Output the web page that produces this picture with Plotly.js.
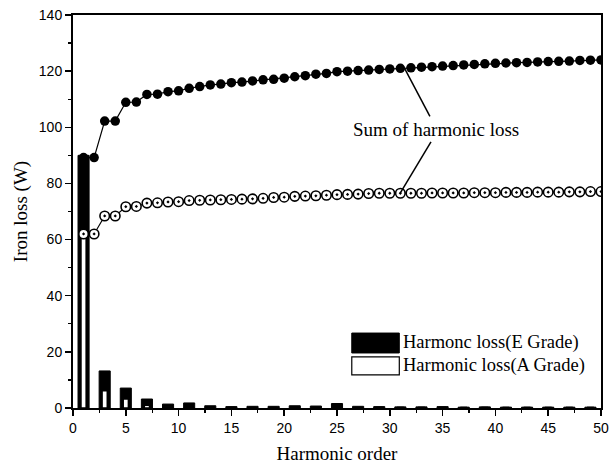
<!DOCTYPE html>
<html>
<head>
<meta charset="utf-8">
<script src="https://cdn.plot.ly/plotly-3.0.1.min.js"></script>
<style>html,body{margin:0;padding:0;background:#fff;}#chart{width:611px;height:470px;}</style>
</head>
<body>
<div id="chart"></div>
<script>
// Harmonic orders for bars (odd harmonics)
const barHarmonics = [1,3,5,7,9,11,13,15,17,19,21,23,25,27,29,31,33,35,37,39,41,43,45,47,49];
const lossEGrade = [90,13.2,7.1,3.2,1.4,1.8,0.8,0.5,0.6,0.6,0.8,0.7,1.6,0.6,0.5,0.4,0.4,0.5,0.3,0.4,0.3,0.3,0.3,0.3,0.3];
const lossAGrade = [61,6.2,3.2,1.0,0.4,0.5,0.3,0.2,0.2,0.2,0.3,0.2,0.5,0.2,0.2,0.2,0.2,0.2,0.2,0.2,0.2,0.2,0.2,0.2,0.2];

// Cumulative sum lines (every harmonic order 1..50)
const sumHarmonics = [1,2,3,4,5,6,7,8,9,10,11,12,13,14,15,16,17,18,19,20,21,22,23,24,25,26,27,28,29,30,31,32,33,34,35,36,37,38,39,40,41,42,43,44,45,46,47,48,49,50];
const sumEGrade = [89.2,89.2,102.2,102.2,108.9,109.0,111.7,111.8,112.7,113.0,113.9,114.5,115.1,115.4,115.9,116.1,116.5,116.9,117.1,117.5,118.0,118.4,118.9,119.2,119.8,120.0,120.2,120.4,120.6,120.8,121.0,121.2,121.4,121.6,121.8,122.0,122.2,122.4,122.6,122.8,122.9,123.0,123.1,123.3,123.4,123.5,123.6,123.8,123.9,124.0];
const sumAGrade = [62.0,62.0,68.4,68.4,71.7,71.8,73.0,73.1,73.4,73.5,73.9,74.0,74.1,74.2,74.3,74.4,74.5,74.7,75.0,75.1,75.4,75.5,75.6,75.8,76.0,76.1,76.2,76.4,76.5,76.5,76.5,76.5,76.5,76.6,76.6,76.6,76.6,76.7,76.7,76.7,76.8,76.8,76.8,76.9,76.9,76.9,77.0,77.0,77.1,77.1];

const legendLabels = ["Harmonc loss(E Grade)", "Harmonic loss(A Grade)"];
const annotationText = "Sum of harmonic loss";
const xTitle = "Harmonic order";
const yTitle = "Iron loss (W)";

const serif = "Liberation Serif, Times New Roman, serif";
const sans = "Liberation Sans, Arial, sans-serif";

const traces = [
  {type:'bar', x: barHarmonics, y: lossEGrade, width: 1.05,
   marker:{color:'#000', line:{color:'#000', width:1}}, showlegend:false, hoverinfo:'skip'},
  {type:'bar', x: barHarmonics, y: lossAGrade, width: 0.5,
   marker:{color:'#fff', line:{color:'#000', width:1.6}}, showlegend:false, hoverinfo:'skip'},
  {type:'scatter', mode:'lines+markers', x: sumHarmonics, y: sumEGrade,
   line:{color:'#000', width:1.2}, marker:{symbol:'circle', size:9.5, color:'#000'}, showlegend:false},
  {type:'scatter', mode:'lines+markers', x: sumHarmonics, y: sumAGrade,
   line:{color:'#000', width:1.2}, marker:{symbol:'circle-dot', size:9.5, color:'#fff', line:{width:1.6, color:'#000'}}, showlegend:false}
];

const layout = {
  width:611, height:470,
  margin:{l:73, r:10, t:15, b:62},
  paper_bgcolor:'#fff', plot_bgcolor:'#fff',
  barmode:'overlay', bargap:0,
  xaxis:{range:[0,50], tickvals:[0,5,10,15,20,25,30,35,40,45,50], ticks:'outside', ticklen:6, tickwidth:1.5,
    tickcolor:'#000', showline:true, linecolor:'#000', linewidth:2, mirror:true, showgrid:false, zeroline:false,
    tickfont:{family:sans, size:14, color:'#000'},
    minor:{dtick:2.5, tick0:0, ticks:'outside', ticklen:3, tickcolor:'#000', tickwidth:1.2, showgrid:false},
    title:{text:xTitle, font:{family:serif, size:19, color:'#000'}, standoff:12}},
  yaxis:{range:[0,140], dtick:20, ticks:'outside', ticklen:6, tickwidth:1.5,
    tickcolor:'#000', showline:true, linecolor:'#000', linewidth:2, mirror:true, showgrid:false, zeroline:false,
    tickfont:{family:sans, size:14, color:'#000'},
    minor:{dtick:10, ticks:'outside', ticklen:3, tickcolor:'#000', tickwidth:1.2, showgrid:false},
    title:{text:yTitle, font:{family:serif, size:19, color:'#000'}, standoff:6}},
  shapes:[
    {type:'line', xref:'x', yref:'y', x0:31.4, y0:121.0, x1:33.8, y1:103.9, line:{color:'#000', width:1.5}},
    {type:'line', xref:'x', yref:'y', x0:33.9, y0:94.8, x1:31.0, y1:76.6, line:{color:'#000', width:1.5}},
    {type:'rect', xref:'x', yref:'y', x0:26.4, x1:30.9, y0:19.6, y1:26.7, fillcolor:'#000', line:{color:'#000', width:1}},
    {type:'rect', xref:'x', yref:'y', x0:26.4, x1:30.9, y0:11.8, y1:18.2, fillcolor:'#fff', line:{color:'#000', width:1.2}}
  ],
  annotations:[
    {xref:'x', yref:'y', x:34.4, y:99.2, text:annotationText, showarrow:false,
     font:{family:serif, size:19, color:'#000'}},
    {xref:'x', yref:'y', x:31.1, y:23.2, xanchor:'left', text:legendLabels[0], showarrow:false,
     font:{family:serif, size:18.5, color:'#000'}},
    {xref:'x', yref:'y', x:31.1, y:15.0, xanchor:'left', text:legendLabels[1], showarrow:false,
     font:{family:serif, size:18.5, color:'#000'}}
  ]
};

Plotly.newPlot('chart', traces, layout, {displayModeBar:false, staticPlot:true});
</script>
</body>
</html>
